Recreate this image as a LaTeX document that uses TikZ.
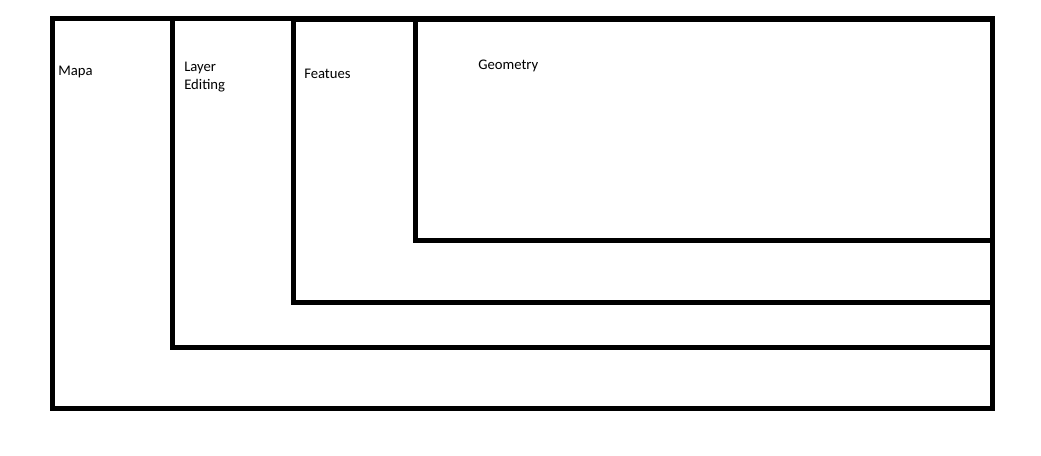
\documentclass[tikz,border=0pt]{standalone}
\usepackage{fontspec}
\setmainfont{Carlito}
\begin{document}
\begin{tikzpicture}[x=0.75pt,y=-0.75pt,
  box/.style={draw=black,line width=3.75pt,line join=miter},
  lbl/.style={anchor=base west,inner sep=0pt,font=\fontsize{11}{13.5}\selectfont,align=left}]
\useasboundingbox (0,0) rectangle (1041,455);
\draw[box] (52.5,18.5) rectangle (992.5,408.5);
\draw[box] (172.5,18.5) rectangle (992.5,347.5);
\draw[box] (293.5,19.5) rectangle (992.5,302.5);
\draw[box] (415.5,19.5) rectangle (992.5,240.5);
\node[lbl] (mapa) at (58,75) {Mapa};
\node[lbl] (layer) at (184,89) {Layer\\Editing};
\node[lbl] (feat) at (304,78) {Featues};
\node[lbl] (geom) at (478,69) {Geometry};
\end{tikzpicture}
\end{document}
